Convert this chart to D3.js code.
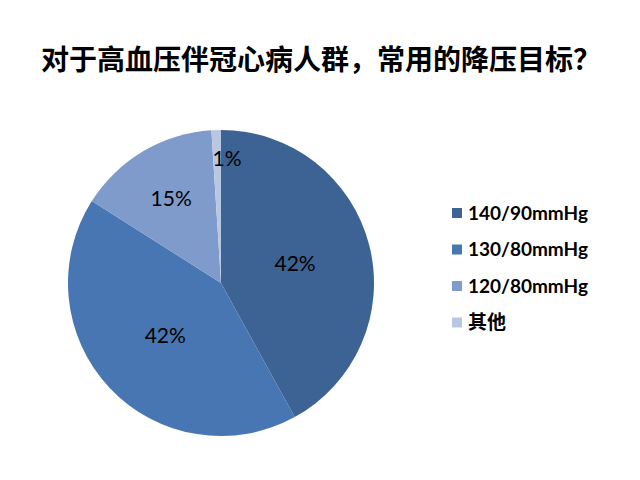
<!DOCTYPE html>
<html>
<head>
<meta charset="utf-8">
<script src="https://cdn.jsdelivr.net/npm/d3@7"></script>
<style>
  body { margin: 0; background: #fff; }
</style>
</head>
<body>
<div id="chart"></div>
<script>
const categories = ["140/90mmHg", "130/80mmHg", "120/80mmHg", "其他"];
const values = [42, 42, 15, 1];
const labels = ["42%", "42%", "15%", "1%"];
const colors = ["#3c6394", "#4876b2", "#7e9bcc", "#b9c8e2"];

const width = 640, height = 480;
const cx = 221, cy = 283, radius = 153;

const svg = d3.select("#chart")
    .append("svg")
    .attr("width", width)
    .attr("height", height);

// Title
svg.append("text")
    .attr("x", 321)
    .attr("y", 70)
    .attr("text-anchor", "middle")
    .attr("font-family", "'Noto Sans CJK SC', sans-serif")
    .attr("font-weight", "bold")
    .attr("font-size", "28px")
    .attr("fill", "#000")
    .text("对于高血压伴冠心病人群，常用的降压目标？");

const pie = d3.pie().sort(null).value(d => d);
const arcs = pie(values);

const arc = d3.arc().innerRadius(0).outerRadius(radius);

const g = svg.append("g").attr("transform", `translate(${cx},${cy})`);

g.selectAll("path.slice")
    .data(arcs)
    .join("path")
    .attr("class", "slice")
    .attr("d", arc)
    .attr("fill", (d, i) => colors[i]);

// labels: bigger slices nearer the centre, tiny ones pushed outward
const total = d3.sum(values);
g.selectAll("text.pct")
    .data(arcs)
    .join("text")
    .attr("class", "pct")
    .attr("transform", d => {
        const share = d.value / total;
        const lr = share > 0.3 ? radius * 0.5 : share > 0.1 ? radius * 0.64 : radius * 0.81;
        const c = d3.arc().innerRadius(lr).outerRadius(lr).centroid(d);
        const nudge = share < 0.05 ? 10 : 0; // Excel shifts the tiny label right
        return `translate(${c[0] + nudge},${c[1]})`;
    })
    .attr("text-anchor", "middle")
    .attr("dy", "0.35em")
    .attr("font-family", "Lato, 'Open Sans', sans-serif")
    .attr("font-size", "21px")
    .attr("fill", "#000")
    .text((d, i) => labels[i]);

// Legend
const legend = svg.append("g").attr("transform", "translate(452,213)");
const rowGap = 36.5;

legend.selectAll("rect")
    .data(categories)
    .join("rect")
    .attr("x", 0)
    .attr("y", (d, i) => i * rowGap - 5)
    .attr("width", 10)
    .attr("height", 10)
    .attr("fill", (d, i) => colors[i]);

legend.selectAll("text")
    .data(categories)
    .join("text")
    .attr("x", 16)
    .attr("y", (d, i) => i * rowGap)
    .attr("dy", "0.36em")
    .attr("font-family", "Lato, 'Noto Sans CJK SC', sans-serif")
    .attr("font-weight", "bold")
    .attr("font-size", "19px")
    .attr("fill", "#000")
    .text(d => d);
</script>
</body>
</html>
